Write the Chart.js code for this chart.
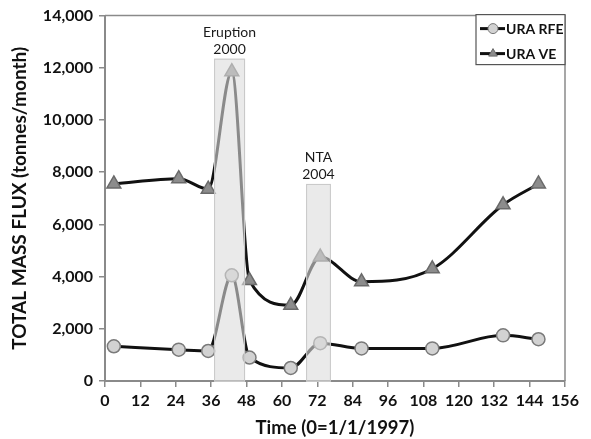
<!DOCTYPE html>
<html>
<head>
<meta charset="utf-8">
<script src="https://cdn.jsdelivr.net/npm/chart.js@4/dist/chart.umd.min.js"></script>
<style>
	html, body { margin: 0; padding: 0; background: #fff; }
	#wrap { width: 591px; height: 439px; }
</style>
</head>
<body>
<div id="wrap"><canvas id="fluxChart"></canvas></div>
<script>
// months since 1/1/1997
const months = [3, 25, 35, 43, 49, 63, 73, 87, 111, 135, 147];
const rfeValues = [1330, 1200, 1150, 4050, 900, 500, 1450, 1250, 1250, 1750, 1600];
const veValues = [7550, 7750, 7350, 11850, 3850, 2900, 4750, 3800, 4300, 6750, 7550];
const xTicks = [0, 12, 24, 36, 48, 60, 72, 84, 96, 108, 120, 132, 144, 156];
const yTicks = [0, 2000, 4000, 6000, 8000, 10000, 12000, 14000];
const eventNames = [["Eruption", "2000"], ["NTA", "2004"]];
const eventStart = [37, 68.2];
const eventEnd = [47.5, 76.6];
const eventTop = [12350, 7550];

const FONT = "Lato, 'Open Sans', sans-serif";
const AXIS_GREY = "#8a8a8a";

const toPoints = (vals) => vals.map((v, i) => ({ x: months[i], y: v }));

// shaded event bands, drawn over the lines like in the original
const bandsPlugin = {
	id: "bands",
	afterDatasetsDraw(chart) {
		const { ctx, scales, chartArea } = chart;
		ctx.save();
		for (let i = 0; i < eventNames.length; i++) {
			const x0 = scales.x.getPixelForValue(eventStart[i]);
			const x1 = scales.x.getPixelForValue(eventEnd[i]);
			const y0 = scales.y.getPixelForValue(eventTop[i]);
			ctx.fillStyle = "rgba(220,220,220,0.6)";
			ctx.fillRect(x0, y0, x1 - x0, chartArea.bottom - y0);
			ctx.strokeStyle = "#c8c8c8";
			ctx.lineWidth = 1;
			ctx.strokeRect(x0 + 0.5, y0 + 0.5, x1 - x0 - 1, chartArea.bottom - y0);
			ctx.fillStyle = "#1a1a1a";
			ctx.font = "14px " + FONT;
			ctx.textAlign = "center";
			ctx.textBaseline = "middle";
			const cx = (x0 + x1) / 2;
			ctx.fillText(eventNames[i][0], cx, y0 - 26);
			ctx.fillText(eventNames[i][1], cx, y0 - 9);
		}
		ctx.restore();
	},
};

// frame on top/right + boxed legend inside the plot
const framePlugin = {
	id: "frame",
	afterDraw(chart) {
		const { ctx, chartArea } = chart;
		ctx.save();
		ctx.strokeStyle = AXIS_GREY;
		ctx.lineWidth = 1.5;
		ctx.beginPath();
		ctx.moveTo(chartArea.left, chartArea.top);
		ctx.lineTo(chartArea.right, chartArea.top);
		ctx.lineTo(chartArea.right, chartArea.bottom);
		ctx.stroke();

		const boxW = 89, boxH = 50;
		const left = chartArea.right - boxW;
		const top = chartArea.top - 1;
		ctx.fillStyle = "#fff";
		ctx.fillRect(left, top, boxW, boxH);
		ctx.strokeStyle = "#555";
		ctx.lineWidth = 1.2;
		ctx.strokeRect(left, top, boxW, boxH);

		chart.data.datasets.forEach((ds, i) => {
			const y = top + 14 + i * 25;
			ctx.strokeStyle = ds.borderColor;
			ctx.lineWidth = 3;
			ctx.beginPath();
			ctx.moveTo(left + 4, y);
			ctx.lineTo(left + 29, y);
			ctx.stroke();
			ctx.fillStyle = ds.pointBackgroundColor;
			ctx.strokeStyle = ds.pointBorderColor;
			ctx.lineWidth = 1;
			Chart.helpers.drawPoint(ctx, { pointStyle: ds.pointStyle, radius: 5, borderWidth: 1 }, left + 17, y);
			ctx.fillStyle = "#111";
			ctx.font = "bold 14px " + FONT;
			ctx.textAlign = "left";
			ctx.textBaseline = "middle";
			ctx.fillText(ds.label, left + 30, y + 1);
		});
		ctx.restore();
	},
};

new Chart(document.getElementById("fluxChart"), {
	type: "line",
	data: {
		datasets: [
			{
				label: "URA RFE",
				data: toPoints(rfeValues),
				borderColor: "#111",
				borderWidth: 3,
				cubicInterpolationMode: "monotone",
				pointStyle: "circle",
				pointRadius: 6.5,
				pointBackgroundColor: "#d2d2d2",
				pointBorderColor: "#7a7a7a",
				pointBorderWidth: 1.5,
			},
			{
				label: "URA VE",
				data: toPoints(veValues),
				borderColor: "#111",
				borderWidth: 3,
				cubicInterpolationMode: "monotone",
				pointStyle: "triangle",
				pointRadius: 8,
				pointBackgroundColor: "#8c8c8c",
				pointBorderColor: "#6a6a6a",
				pointBorderWidth: 1.5,
			},
		],
	},
	options: {
		responsive: true,
		maintainAspectRatio: false,
		animation: false,
		layout: { padding: { top: 13, right: 26, left: 0, bottom: 0 } },
		plugins: {
			legend: { display: false },
			tooltip: { enabled: false },
		},
		scales: {
			x: {
				type: "linear",
				min: xTicks[0],
				max: xTicks[xTicks.length - 1],
				afterBuildTicks: (s) => { s.ticks = xTicks.map((v) => ({ value: v })); },
				afterFit: (s) => { s.height = 58; },
				grid: { drawOnChartArea: false, drawTicks: true, tickLength: 6, color: AXIS_GREY, lineWidth: 1.5 },
				border: { color: AXIS_GREY, width: 2 },
				ticks: { color: "#111", font: { family: FONT, size: 16, weight: "bold" }, padding: 4, maxRotation: 0 },
				title: {
					display: true,
					text: "Time (0=1/1/1997)",
					color: "#111",
					font: { family: FONT, size: 18.5, weight: "bold" },
					padding: { top: 0, bottom: 0 },
				},
			},
			y: {
				min: yTicks[0],
				max: yTicks[yTicks.length - 1],
				afterBuildTicks: (s) => { s.ticks = yTicks.map((v) => ({ value: v })); },
				afterFit: (s) => { s.width = 105; },
				grid: { drawOnChartArea: false, drawTicks: true, tickLength: 6, color: AXIS_GREY, lineWidth: 1.5 },
				border: { color: AXIS_GREY, width: 2 },
				ticks: {
					color: "#111",
					font: { family: FONT, size: 16, weight: "bold" },
					padding: 6,
					callback: (v) => v.toLocaleString("en-US"),
				},
				title: {
					display: true,
					text: "TOTAL MASS FLUX (tonnes/month)",
					color: "#111",
					font: { family: FONT, size: 19, weight: "bold" },
					padding: { top: 8, bottom: 0 },
				},
			},
		},
	},
	plugins: [bandsPlugin, framePlugin],
});
</script>
</body>
</html>
